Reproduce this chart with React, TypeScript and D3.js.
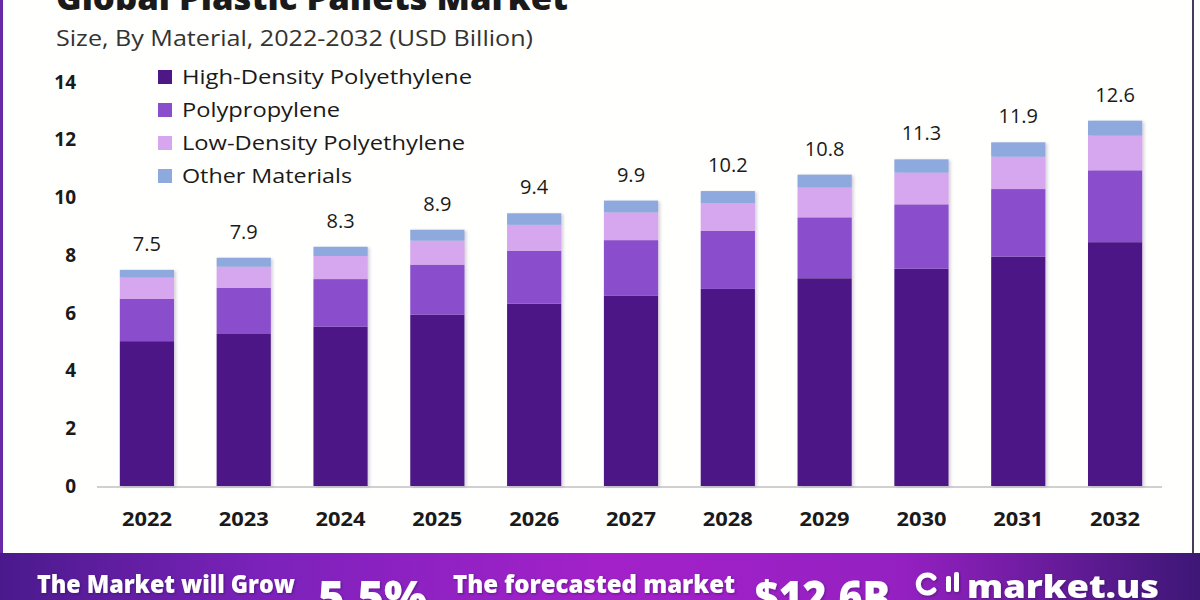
import React from "react";
import * as d3 from "d3";

const years = ["2022", "2023", "2024", "2025", "2026", "2027", "2028", "2029", "2030", "2031", "2032"];
const hdpe = [5.02, 5.29, 5.52, 5.94, 6.32, 6.59, 6.83, 7.2, 7.53, 7.95, 8.45];
const polypropylene = [1.46, 1.58, 1.65, 1.73, 1.83, 1.93, 2.01, 2.11, 2.23, 2.34, 2.49];
const ldpe = [0.74, 0.73, 0.8, 0.83, 0.9, 0.96, 0.96, 1.03, 1.1, 1.12, 1.2];
const otherMaterials = [0.27, 0.31, 0.32, 0.38, 0.4, 0.41, 0.42, 0.45, 0.46, 0.5, 0.52];
const totals = ["7.5", "7.9", "8.3", "8.9", "9.4", "9.9", "10.2", "10.8", "11.3", "11.9", "12.6"];
const seriesNames = ["High-Density Polyethylene", "Polypropylene", "Low-Density Polyethylene", "Other Materials"];
const seriesColors = ["#4e1786", "#8a4dcc", "#d6a6ee", "#8ea9dd"];
const yTicks = [0, 2, 4, 6, 8, 10, 12, 14];

const W = 1200;
const H = 600;

export default function App() {
  const x = d3.scaleBand<string>().domain(years).range([98.5, 1163.5]).paddingInner(0.44).paddingOuter(0.22);
  const y = d3.scaleLinear().domain([0, 14]).range([486, 82]);

  const rows = years.map((yr, i) => ({
    year: yr,
    s0: hdpe[i],
    s1: polypropylene[i],
    s2: ldpe[i],
    s3: otherMaterials[i],
  }));
  const stack = d3.stack<any>().keys(["s0", "s1", "s2", "s3"]);
  const layers = stack(rows);

  const legendW = [290, 158, 283, 170];

  return (
    <svg
      width={W}
      height={H}
      style={{ position: "absolute", left: 0, top: 0, background: "#ffffff" }}
      fontFamily="'Open Sans', sans-serif"
    >
      <defs>
        <linearGradient id="banner" x1="0" y1="0" x2="1" y2="0">
          <stop offset="0" stopColor="#4a1a8c" />
          <stop offset="0.22" stopColor="#7c22bb" />
          <stop offset="0.5" stopColor="#a321c9" />
          <stop offset="0.75" stopColor="#9520c2" />
          <stop offset="1" stopColor="#3d1776" />
        </linearGradient>
        <filter id="shadow" x="-10%" y="-5%" width="125%" height="110%">
          <feDropShadow dx="2" dy="1" stdDeviation="1.5" floodColor="#8a7aa0" floodOpacity="0.35" />
        </filter>
        <filter id="tshadow">
          <feDropShadow dx="1" dy="1" stdDeviation="1" floodColor="#2a0a50" floodOpacity="0.5" />
        </filter>
      </defs>

      <rect x={0} y={0} width={W} height={H} fill="#fffffd" />
      <rect x={0} y={0} width={3} height={553} fill="#6a2aa8" />
      <rect x={1192} y={0} width={2} height={553} fill="#4a3a5a" />

      {/* Title */}
      <text x={56} y={10} fontSize={33} fontWeight={800} fill="#1a1a1a" textLength={512} lengthAdjust="spacingAndGlyphs">
        Global Plastic Pallets Market
      </text>
      <text x={56} y={46} fontSize={22} fill="#333" textLength={477} lengthAdjust="spacingAndGlyphs">
        Size, By Material, 2022-2032 (USD Billion)
      </text>

      {/* Y ticks */}
      {yTicks.map((t) => (
        <text key={t} x={76} y={y(t)} dy="0.35em" textAnchor="end" fontSize={19} fontWeight={700} fill="#1a1a1a">
          {t}
        </text>
      ))}

      {/* Axis line */}
      <line x1={97} x2={1162} y1={487} y2={487} stroke="#d0d0d0" strokeWidth={2} />

      {/* Bars */}
      <g filter="url(#shadow)">
        {layers.map((layer, li) =>
          layer.map((d, i) => (
            <rect
              key={`${li}-${i}`}
              x={x(years[i])}
              y={y(d[1])}
              width={x.bandwidth()}
              height={y(d[0]) - y(d[1])}
              fill={seriesColors[li]}
            />
          ))
        )}
      </g>

      {/* Value labels */}
      {years.map((yr, i) => (
        <text
          key={yr}
          x={(x(yr) as number) + x.bandwidth() / 2}
          y={y(layers[3][i][1]) - 19}
          textAnchor="middle"
          fontSize={20}
          fill="#1a1a1a"
        >
          {totals[i]}
        </text>
      ))}

      {/* X labels */}
      {years.map((yr) => (
        <text
          key={yr}
          x={(x(yr) as number) + x.bandwidth() / 2}
          y={519}
          dy="0.35em"
          textAnchor="middle"
          fontSize={19}
          fontWeight={700}
          fill="#1a1a1a"
          textLength={50}
          lengthAdjust="spacingAndGlyphs"
        >
          {yr}
        </text>
      ))}

      {/* Legend */}
      {seriesNames.map((name, i) => (
        <g key={name} transform={`translate(158, ${77 + i * 33})`}>
          <rect x={0} y={-7} width={14} height={14} fill={seriesColors[i]} />
          <text x={24} y={0} dy="0.35em" fontSize={20} fill="#1a1a1a" textLength={legendW[i]} lengthAdjust="spacingAndGlyphs">
            {name}
          </text>
        </g>
      ))}

      {/* Bottom banner */}
      <rect x={0} y={553} width={W} height={47} fill="url(#banner)" />
      <g fill="#ffffff" fontWeight={800} filter="url(#tshadow)">
        <text x={37} y={593} fontSize={24} textLength={258} lengthAdjust="spacingAndGlyphs">
          The Market will Grow
        </text>
        <text x={318} y={613} fontSize={44} textLength={109} lengthAdjust="spacingAndGlyphs">
          5.5%
        </text>
        <text x={453} y={593} fontSize={24} textLength={282} lengthAdjust="spacingAndGlyphs">
          The forecasted market
        </text>
        <text x={755} y={613} fontSize={44} textLength={135} lengthAdjust="spacingAndGlyphs">
          $12.6B
        </text>
        <g transform="translate(920, 592)">
          <path d="M 14 -2 A 9 9 0 1 1 14 -14" fill="none" stroke="#fff" strokeWidth={5} strokeLinecap="round" />
          <rect x={26} y={-16} width={5} height={16} rx={2} />
          <rect x={34} y={-20} width={5} height={20} rx={2} />
        </g>
        <text x={967} y={598} fontSize={32} textLength={192} lengthAdjust="spacingAndGlyphs">
          market.us
        </text>
      </g>
    </svg>
  );
}
